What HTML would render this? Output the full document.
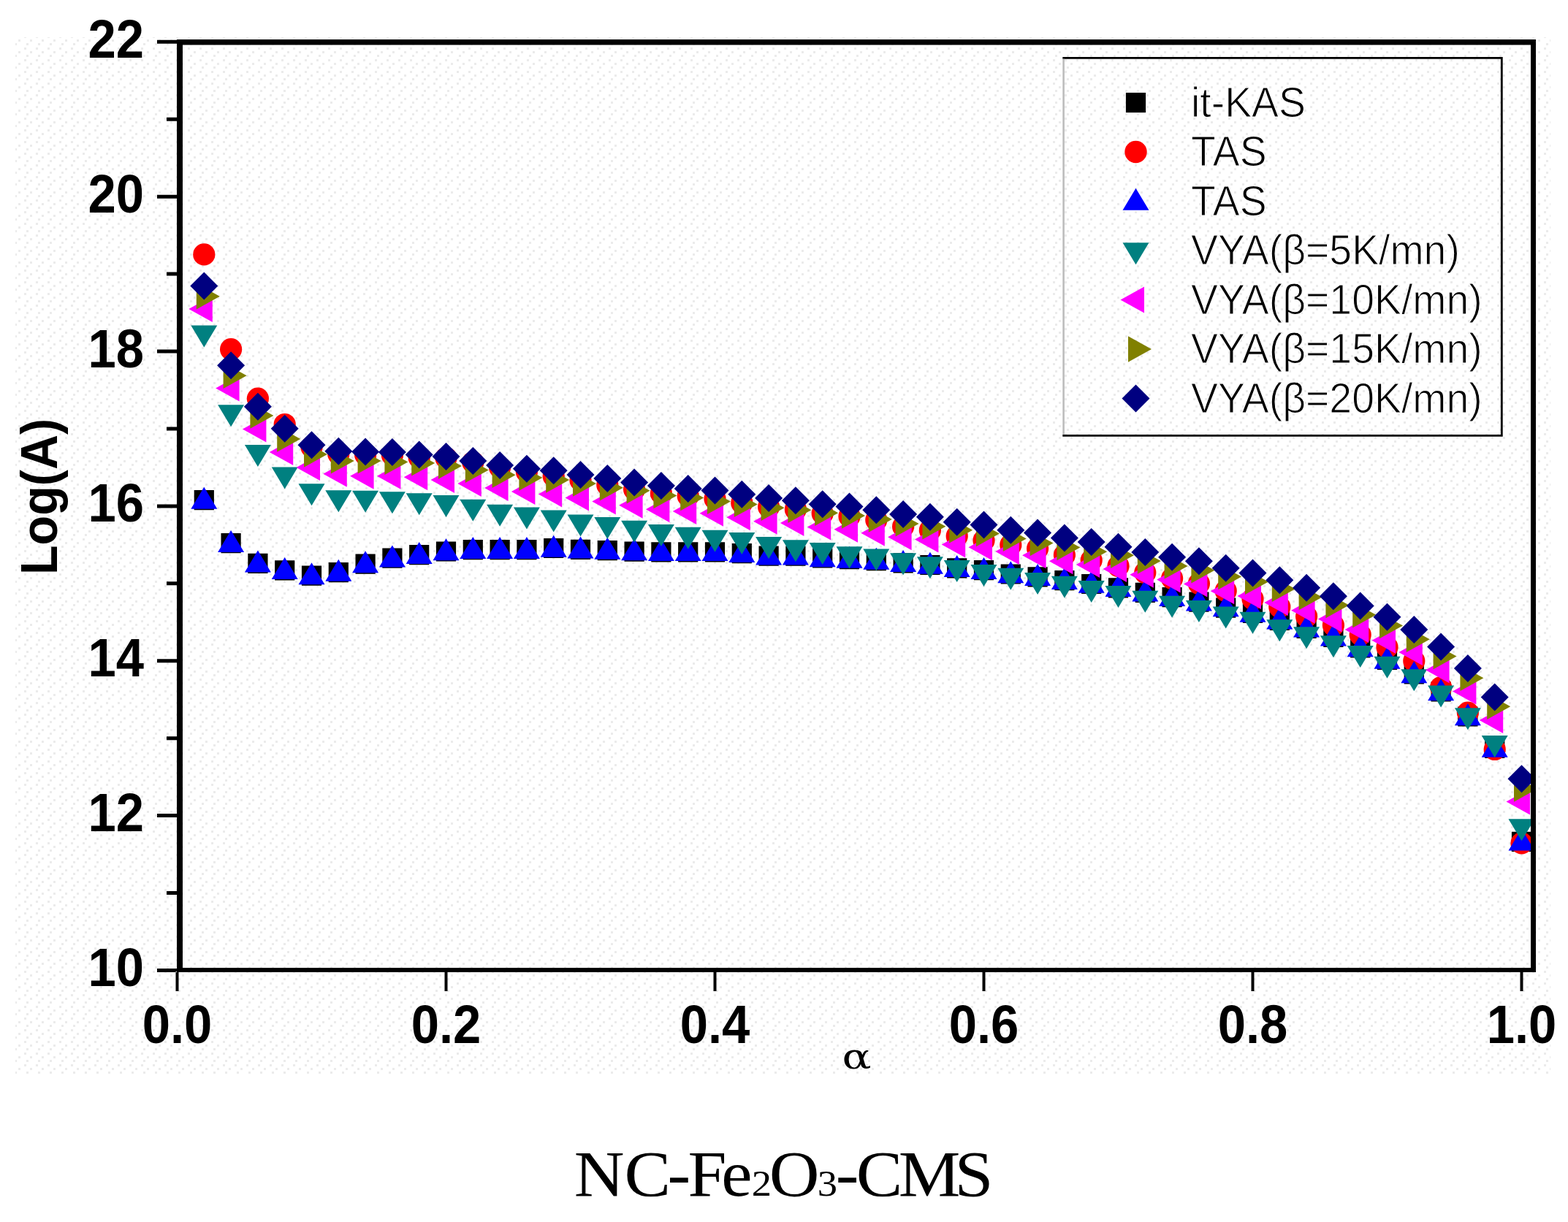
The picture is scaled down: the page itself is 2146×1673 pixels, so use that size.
<!DOCTYPE html>
<html><head><meta charset="utf-8"><title>NC-Fe2O3-CMS Log(A) vs alpha</title>
<style>html,body{margin:0;padding:0;background:#fff;}svg{display:block;}</style>
</head><body>
<svg width="2146" height="1673" viewBox="0 0 2146 1673"><rect x="0" y="0" width="2146" height="1673" fill="#fff"/><defs><pattern id="dots" width="16" height="16" patternUnits="userSpaceOnUse"><rect x="1" y="1" width="3" height="3" fill="#ebebeb"/><rect x="9" y="6" width="3" height="3" fill="#ebebeb"/><rect x="4" y="11" width="3" height="3" fill="#ebebeb"/></pattern></defs><rect x="21" y="51" width="2101" height="1419" fill="url(#dots)"/><g clip-path="url(#pc)"><path fill="#000000" d="M265.7 671h27.2v27.2h-27.2zM302.5 730.1h27.2v27.2h-27.2zM339.3 757.7h27.2v27.2h-27.2zM376.1 767.3h27.2v27.2h-27.2zM412.9 774.5h27.2v27.2h-27.2zM449.7 770h27.2v27.2h-27.2zM486.5 758.5h27.2v27.2h-27.2zM523.3 750.6h27.2v27.2h-27.2zM560.1 746.1h27.2v27.2h-27.2zM596.9 741.4h27.2v27.2h-27.2zM633.7 739.1h27.2v27.2h-27.2zM670.5 739.1h27.2v27.2h-27.2zM707.3 739.1h27.2v27.2h-27.2zM744.1 736.9h27.2v27.2h-27.2zM780.9 738.8h27.2v27.2h-27.2zM817.7 740h27.2v27.2h-27.2zM854.5 741.5h27.2v27.2h-27.2zM891.3 742.3h27.2v27.2h-27.2zM928.1 742.3h27.2v27.2h-27.2zM964.9 742.3h27.2v27.2h-27.2zM1001.7 744.1h27.2v27.2h-27.2zM1038.5 747.6h27.2v27.2h-27.2zM1075.3 747.6h27.2v27.2h-27.2zM1112.1 750.4h27.2v27.2h-27.2zM1148.9 752h27.2v27.2h-27.2zM1185.7 754h27.2v27.2h-27.2zM1222.5 757.2h27.2v27.2h-27.2zM1259.3 759.9h27.2v27.2h-27.2zM1296.1 764.2h27.2v27.2h-27.2zM1332.9 767.1h27.2v27.2h-27.2zM1369.7 772.4h27.2v27.2h-27.2zM1406.5 776.2h27.2v27.2h-27.2zM1443.3 781.1h27.2v27.2h-27.2zM1480.1 785.9h27.2v27.2h-27.2zM1516.9 791.3h27.2v27.2h-27.2zM1553.7 797.7h27.2v27.2h-27.2zM1590.5 804.1h27.2v27.2h-27.2zM1627.3 810.6h27.2v27.2h-27.2zM1664.1 818.5h27.2v27.2h-27.2zM1700.9 825.9h27.2v27.2h-27.2zM1737.7 835.8h27.2v27.2h-27.2zM1774.5 846.7h27.2v27.2h-27.2zM1811.3 858.8h27.2v27.2h-27.2zM1848.1 873.4h27.2v27.2h-27.2zM1884.9 889.9h27.2v27.2h-27.2zM1921.7 909.4h27.2v27.2h-27.2zM1958.5 933.4h27.2v27.2h-27.2zM1995.3 967.4h27.2v27.2h-27.2zM2032.1 1010.9h27.2v27.2h-27.2zM2068.9 1138.8h27.2v27.2h-27.2z"/><g fill="#ff0000"><circle cx="279.3" cy="348.4" r="15.1"/><circle cx="316.1" cy="478.2" r="15.1"/><circle cx="352.9" cy="545.6" r="15.1"/><circle cx="389.7" cy="581" r="15.1"/><circle cx="426.5" cy="612" r="15.1"/><circle cx="463.3" cy="621.5" r="15.1"/><circle cx="500.1" cy="622.5" r="15.1"/><circle cx="536.9" cy="623" r="15.1"/><circle cx="573.7" cy="626.5" r="15.1"/><circle cx="610.5" cy="627" r="15.1"/><circle cx="647.3" cy="633" r="15.1"/><circle cx="684.1" cy="640" r="15.1"/><circle cx="720.9" cy="646" r="15.1"/><circle cx="757.7" cy="652" r="15.1"/><circle cx="794.5" cy="657.5" r="15.1"/><circle cx="831.3" cy="664" r="15.1"/><circle cx="868.1" cy="670" r="15.1"/><circle cx="904.9" cy="675.4" r="15.1"/><circle cx="941.7" cy="679" r="15.1"/><circle cx="978.5" cy="683" r="15.1"/><circle cx="1015.3" cy="688.5" r="15.1"/><circle cx="1052.1" cy="694" r="15.1"/><circle cx="1088.9" cy="697.5" r="15.1"/><circle cx="1125.7" cy="703" r="15.1"/><circle cx="1162.5" cy="707" r="15.1"/><circle cx="1199.3" cy="712" r="15.1"/><circle cx="1236.1" cy="721" r="15.1"/><circle cx="1272.9" cy="726" r="15.1"/><circle cx="1309.7" cy="734" r="15.1"/><circle cx="1346.5" cy="740" r="15.1"/><circle cx="1383.3" cy="746" r="15.1"/><circle cx="1420.1" cy="751" r="15.1"/><circle cx="1456.9" cy="760" r="15.1"/><circle cx="1493.7" cy="767" r="15.1"/><circle cx="1530.5" cy="775" r="15.1"/><circle cx="1567.3" cy="784" r="15.1"/><circle cx="1604.1" cy="792" r="15.1"/><circle cx="1640.9" cy="799" r="15.1"/><circle cx="1677.7" cy="809" r="15.1"/><circle cx="1714.5" cy="820" r="15.1"/><circle cx="1751.3" cy="831" r="15.1"/><circle cx="1788.1" cy="844" r="15.1"/><circle cx="1824.9" cy="856" r="15.1"/><circle cx="1861.7" cy="869" r="15.1"/><circle cx="1898.5" cy="886" r="15.1"/><circle cx="1935.3" cy="905" r="15.1"/><circle cx="1972.1" cy="941" r="15.1"/><circle cx="2008.9" cy="975.6" r="15.1"/><circle cx="2045.7" cy="1026" r="15.1"/><circle cx="2082.5" cy="1154.4" r="15.1"/></g><path fill="#0000ff" d="M279.3 666.8L297.3 696.8L261.3 696.8zM316.1 725.9L334.1 755.9L298.1 755.9zM352.9 753.5L370.9 783.5L334.9 783.5zM389.7 763.1L407.7 793.1L371.7 793.1zM426.5 770.3L444.5 800.3L408.5 800.3zM463.3 765.8L481.3 795.8L445.3 795.8zM500.1 754.3L518.1 784.3L482.1 784.3zM536.9 746.4L554.9 776.4L518.9 776.4zM573.7 741.9L591.7 771.9L555.7 771.9zM610.5 737.2L628.5 767.2L592.5 767.2zM647.3 734.9L665.3 764.9L629.3 764.9zM684.1 734.9L702.1 764.9L666.1 764.9zM720.9 734.9L738.9 764.9L702.9 764.9zM757.7 732.7L775.7 762.7L739.7 762.7zM794.5 734.6L812.5 764.6L776.5 764.6zM831.3 735.8L849.3 765.8L813.3 765.8zM868.1 737.3L886.1 767.3L850.1 767.3zM904.9 738.1L922.9 768.1L886.9 768.1zM941.7 738.1L959.7 768.1L923.7 768.1zM978.5 738.1L996.5 768.1L960.5 768.1zM1015.3 739.9L1033.3 769.9L997.3 769.9zM1052.1 743.4L1070.1 773.4L1034.1 773.4zM1088.9 743.4L1106.9 773.4L1070.9 773.4zM1125.7 746.2L1143.7 776.2L1107.7 776.2zM1162.5 747.8L1180.5 777.8L1144.5 777.8zM1199.3 749.8L1217.3 779.8L1181.3 779.8zM1236.1 753L1254.1 783L1218.1 783zM1272.9 755.7L1290.9 785.7L1254.9 785.7zM1309.7 760L1327.7 790L1291.7 790zM1346.5 762.9L1364.5 792.9L1328.5 792.9zM1383.3 768.2L1401.3 798.2L1365.3 798.2zM1420.1 772L1438.1 802L1402.1 802zM1456.9 776.9L1474.9 806.9L1438.9 806.9zM1493.7 781.7L1511.7 811.7L1475.7 811.7zM1530.5 787.1L1548.5 817.1L1512.5 817.1zM1567.3 793.5L1585.3 823.5L1549.3 823.5zM1604.1 799.9L1622.1 829.9L1586.1 829.9zM1640.9 806.4L1658.9 836.4L1622.9 836.4zM1677.7 814.3L1695.7 844.3L1659.7 844.3zM1714.5 821.7L1732.5 851.7L1696.5 851.7zM1751.3 831.6L1769.3 861.6L1733.3 861.6zM1788.1 842.5L1806.1 872.5L1770.1 872.5zM1824.9 854.6L1842.9 884.6L1806.9 884.6zM1861.7 869.2L1879.7 899.2L1843.7 899.2zM1898.5 885.7L1916.5 915.7L1880.5 915.7zM1935.3 905.2L1953.3 935.2L1917.3 935.2zM1972.1 929.2L1990.1 959.2L1954.1 959.2zM2008.9 963.2L2026.9 993.2L1990.9 993.2zM2045.7 1006.7L2063.7 1036.7L2027.7 1036.7zM2082.5 1134.6L2100.5 1164.6L2064.5 1164.6z"/><path fill="#008080" d="M261.3 445.5L297.3 445.5L279.3 475.5zM298.1 554.3L334.1 554.3L316.1 584.3zM334.9 608.9L370.9 608.9L352.9 638.9zM371.7 639.6L407.7 639.6L389.7 669.6zM408.5 662.3L444.5 662.3L426.5 692.3zM445.3 671.3L481.3 671.3L463.3 701.3zM482.1 671.7L518.1 671.7L500.1 701.7zM518.9 673.3L554.9 673.3L536.9 703.3zM555.7 675.3L591.7 675.3L573.7 705.3zM592.5 678.1L628.5 678.1L610.5 708.1zM629.3 683.7L665.3 683.7L647.3 713.7zM666.1 690.8L702.1 690.8L684.1 720.8zM702.9 694.4L738.9 694.4L720.9 724.4zM739.7 698.6L775.7 698.6L757.7 728.6zM776.5 704.4L812.5 704.4L794.5 734.4zM813.3 708L849.3 708L831.3 738zM850.1 712.8L886.1 712.8L868.1 742.8zM886.9 718.1L922.9 718.1L904.9 748.1zM923.7 721.8L959.7 721.8L941.7 751.8zM960.5 725.8L996.5 725.8L978.5 755.8zM997.3 729L1033.3 729L1015.3 759zM1034.1 735.1L1070.1 735.1L1052.1 765.1zM1070.9 739.3L1106.9 739.3L1088.9 769.3zM1107.7 743L1143.7 743L1125.7 773zM1144.5 748.2L1180.5 748.2L1162.5 778.2zM1181.3 751.6L1217.3 751.6L1199.3 781.6zM1218.1 757.2L1254.1 757.2L1236.1 787.2zM1254.9 762.3L1290.9 762.3L1272.9 792.3zM1291.7 767L1327.7 767L1309.7 797zM1328.5 773.1L1364.5 773.1L1346.5 803.1zM1365.3 777.7L1401.3 777.7L1383.3 807.7zM1402.1 783.9L1438.1 783.9L1420.1 813.9zM1438.9 788.8L1474.9 788.8L1456.9 818.8zM1475.7 795.1L1511.7 795.1L1493.7 825.1zM1512.5 802L1548.5 802L1530.5 832zM1549.3 808.8L1585.3 808.8L1567.3 838.8zM1586.1 815.7L1622.1 815.7L1604.1 845.7zM1622.9 822L1658.9 822L1640.9 852zM1659.7 830.4L1695.7 830.4L1677.7 860.4zM1696.5 837.7L1732.5 837.7L1714.5 867.7zM1733.3 848.2L1769.3 848.2L1751.3 878.2zM1770.1 858.3L1806.1 858.3L1788.1 888.3zM1806.9 870.3L1842.9 870.3L1824.9 900.3zM1843.7 884L1879.7 884L1861.7 914zM1880.5 898.7L1916.5 898.7L1898.5 928.7zM1917.3 916.2L1953.3 916.2L1935.3 946.2zM1954.1 938.4L1990.1 938.4L1972.1 968.4zM1990.9 969.3L2026.9 969.3L2008.9 999.3zM2027.7 1007L2063.7 1007L2045.7 1037zM2064.5 1121.3L2100.5 1121.3L2082.5 1151.3z"/><path fill="#ff00ff" d="M258.3 423L290.8 405L290.8 441zM295.1 531.5L327.6 513.5L327.6 549.5zM331.9 587.5L364.4 569.5L364.4 605.5zM368.7 619L401.2 601L401.2 637zM405.5 639.9L438 621.9L438 657.9zM442.3 648.8L474.8 630.8L474.8 666.8zM479.1 651.8L511.6 633.8L511.6 669.8zM515.9 651.8L548.4 633.8L548.4 669.8zM552.7 653.3L585.2 635.3L585.2 671.3zM589.5 657L622 639L622 675zM626.3 662.1L658.8 644.1L658.8 680.1zM663.1 668L695.6 650L695.6 686zM699.9 672.9L732.4 654.9L732.4 690.9zM736.7 676.5L769.2 658.5L769.2 694.5zM773.5 681.5L806 663.5L806 699.5zM810.3 686.5L842.8 668.5L842.8 704.5zM847.1 691.8L879.6 673.8L879.6 709.8zM883.9 697.3L916.4 679.3L916.4 715.3zM920.7 700L953.2 682L953.2 718zM957.5 702.8L990 684.8L990 720.8zM994.3 708.2L1026.8 690.2L1026.8 726.2zM1031.1 713.7L1063.6 695.7L1063.6 731.7zM1067.9 716L1100.4 698L1100.4 734zM1104.7 721.5L1137.2 703.5L1137.2 739.5zM1141.5 724.8L1174 706.8L1174 742.8zM1178.3 729.7L1210.8 711.7L1210.8 747.7zM1215.1 735.2L1247.6 717.2L1247.6 753.2zM1251.9 738.5L1284.4 720.5L1284.4 756.5zM1288.7 745.4L1321.2 727.4L1321.2 763.4zM1325.5 749.3L1358 731.3L1358 767.3zM1362.3 755.1L1394.8 737.1L1394.8 773.1zM1399.1 760.3L1431.6 742.3L1431.6 778.3zM1435.9 768.2L1468.4 750.2L1468.4 786.2zM1472.7 773.1L1505.2 755.1L1505.2 791.1zM1509.5 778.9L1542 760.9L1542 796.9zM1546.3 786.8L1578.8 768.8L1578.8 804.8zM1583.1 793.6L1615.6 775.6L1615.6 811.6zM1619.9 799.5L1652.4 781.5L1652.4 817.5zM1656.7 809.3L1689.2 791.3L1689.2 827.3zM1693.5 816.1L1726 798.1L1726 834.1zM1730.3 824.9L1762.8 806.9L1762.8 842.9zM1767.1 835.7L1799.6 817.7L1799.6 853.7zM1803.9 847.5L1836.4 829.5L1836.4 865.5zM1840.7 862L1873.2 844L1873.2 880zM1877.5 876.8L1910 858.8L1910 894.8zM1914.3 893.1L1946.8 875.1L1946.8 911.1zM1951.1 917.2L1983.6 899.2L1983.6 935.2zM1987.9 946.6L2020.4 928.6L2020.4 964.6zM2024.7 986L2057.2 968L2057.2 1004zM2061.5 1097.5L2094 1079.5L2094 1115.5z"/><path fill="#808000" d="M268.8 388L300.8 405.7L268.8 423.4zM305.6 496.5L337.6 514.2L305.6 531.9zM342.4 551.3L374.4 569L342.4 586.7zM379.2 583.3L411.2 601L379.2 618.7zM416 604.3L448 622L416 639.7zM452.8 613.2L484.8 630.9L452.8 648.6zM489.6 613.2L521.6 630.9L489.6 648.6zM526.4 614.7L558.4 632.4L526.4 650.1zM563.2 616.2L595.2 633.9L563.2 651.6zM600 620.3L632 638L600 655.7zM636.8 625.7L668.8 643.4L636.8 661.1zM673.6 632.5L705.6 650.2L673.6 667.9zM710.4 636.4L742.4 654.1L710.4 671.8zM747.2 639.4L779.2 657.1L747.2 674.8zM784 644.3L816 662L784 679.7zM820.8 650.1L852.8 667.8L820.8 685.5zM857.6 654.1L889.6 671.8L857.6 689.5zM894.4 660.9L926.4 678.6L894.4 696.3zM931.2 663.8L963.2 681.5L931.2 699.2zM968 668.7L1000 686.4L968 704.1zM1004.8 672.7L1036.8 690.4L1004.8 708.1zM1041.6 677.6L1073.6 695.3L1041.6 713zM1078.4 680.6L1110.4 698.3L1078.4 716zM1115.2 684.5L1147.2 702.2L1115.2 719.9zM1152 688.4L1184 706.1L1152 723.8zM1188.8 693.3L1220.8 711L1188.8 728.7zM1225.6 699.2L1257.6 716.9L1225.6 734.6zM1262.4 703.1L1294.4 720.8L1262.4 738.5zM1299.2 708L1331.2 725.7L1299.2 743.4zM1336 712.9L1368 730.6L1336 748.3zM1372.8 719.7L1404.8 737.4L1372.8 755.1zM1409.6 725.9L1441.6 743.6L1409.6 761.3zM1446.4 731.8L1478.4 749.5L1446.4 767.2zM1483.2 737.6L1515.2 755.3L1483.2 773zM1520 742.5L1552 760.2L1520 777.9zM1556.8 750.4L1588.8 768.1L1556.8 785.8zM1593.6 757.2L1625.6 774.9L1593.6 792.6zM1630.4 763.1L1662.4 780.8L1630.4 798.5zM1667.2 771.9L1699.2 789.6L1667.2 807.3zM1704 778.7L1736 796.4L1704 814.1zM1740.8 788.5L1772.8 806.2L1740.8 823.9zM1777.6 799.8L1809.6 817.5L1777.6 835.2zM1814.4 810.9L1846.4 828.6L1814.4 846.3zM1851.2 824.1L1883.2 841.8L1851.2 859.5zM1888 838.9L1920 856.6L1888 874.3zM1924.8 857.5L1956.8 875.2L1924.8 892.9zM1961.6 880.9L1993.6 898.6L1961.6 916.3zM1998.4 910.6L2030.4 928.3L1998.4 946zM2035.2 949.6L2067.2 967.3L2035.2 985zM2072 1062.3L2104 1080L2072 1097.7z"/><path fill="#000080" d="M279.3 372.5L298.3 391.5L279.3 410.5L260.3 391.5zM316.1 481.3L335.1 500.3L316.1 519.3L297.1 500.3zM352.9 537.7L371.9 556.7L352.9 575.7L333.9 556.7zM389.7 567.8L408.7 586.8L389.7 605.8L370.7 586.8zM426.5 590.2L445.5 609.2L426.5 628.2L407.5 609.2zM463.3 598.7L482.3 617.7L463.3 636.7L444.3 617.7zM500.1 599.5L519.1 618.5L500.1 637.5L481.1 618.5zM536.9 600L555.9 619L536.9 638L517.9 619zM573.7 603.4L592.7 622.4L573.7 641.4L554.7 622.4zM610.5 606L629.5 625L610.5 644L591.5 625zM647.3 611.9L666.3 630.9L647.3 649.9L628.3 630.9zM684.1 618L703.1 637L684.1 656L665.1 637zM720.9 622.7L739.9 641.7L720.9 660.7L701.9 641.7zM757.7 625.3L776.7 644.3L757.7 663.3L738.7 644.3zM794.5 631L813.5 650L794.5 669L775.5 650zM831.3 635.9L850.3 654.9L831.3 673.9L812.3 654.9zM868.1 641.5L887.1 660.5L868.1 679.5L849.1 660.5zM904.9 646L923.9 665L904.9 684L885.9 665zM941.7 650.1L960.7 669.1L941.7 688.1L922.7 669.1zM978.5 652.6L997.5 671.6L978.5 690.6L959.5 671.6zM1015.3 657.8L1034.3 676.8L1015.3 695.8L996.3 676.8zM1052.1 663L1071.1 682L1052.1 701L1033.1 682zM1088.9 666.2L1107.9 685.2L1088.9 704.2L1069.9 685.2zM1125.7 671.2L1144.7 690.2L1125.7 709.2L1106.7 690.2zM1162.5 674.6L1181.5 693.6L1162.5 712.6L1143.5 693.6zM1199.3 679.3L1218.3 698.3L1199.3 717.3L1180.3 698.3zM1236.1 684.9L1255.1 703.9L1236.1 722.9L1217.1 703.9zM1272.9 688.8L1291.9 707.8L1272.9 726.8L1253.9 707.8zM1309.7 695.7L1328.7 714.7L1309.7 733.7L1290.7 714.7zM1346.5 699.5L1365.5 718.5L1346.5 737.5L1327.5 718.5zM1383.3 706.7L1402.3 725.7L1383.3 744.7L1364.3 725.7zM1420.1 710.4L1439.1 729.4L1420.1 748.4L1401.1 729.4zM1456.9 717.5L1475.9 736.5L1456.9 755.5L1437.9 736.5zM1493.7 723L1512.7 742L1493.7 761L1474.7 742zM1530.5 729.8L1549.5 748.8L1530.5 767.8L1511.5 748.8zM1567.3 737L1586.3 756L1567.3 775L1548.3 756zM1604.1 743.7L1623.1 762.7L1604.1 781.7L1585.1 762.7zM1640.9 749.3L1659.9 768.3L1640.9 787.3L1621.9 768.3zM1677.7 758.8L1696.7 777.8L1677.7 796.8L1658.7 777.8zM1714.5 765.5L1733.5 784.5L1714.5 803.5L1695.5 784.5zM1751.3 775.3L1770.3 794.3L1751.3 813.3L1732.3 794.3zM1788.1 785.8L1807.1 804.8L1788.1 823.8L1769.1 804.8zM1824.9 797.2L1843.9 816.2L1824.9 835.2L1805.9 816.2zM1861.7 810.4L1880.7 829.4L1861.7 848.4L1842.7 829.4zM1898.5 825.8L1917.5 844.8L1898.5 863.8L1879.5 844.8zM1935.3 843L1954.3 862L1935.3 881L1916.3 862zM1972.1 866.4L1991.1 885.4L1972.1 904.4L1953.1 885.4zM2008.9 896.1L2027.9 915.1L2008.9 934.1L1989.9 915.1zM2045.7 935.4L2064.7 954.4L2045.7 973.4L2026.7 954.4zM2082.5 1047.3L2101.5 1066.3L2082.5 1085.3L2063.5 1066.3z"/></g><clipPath id="pc"><rect x="246" y="58" width="1853" height="1270"/></clipPath><path fill="#000" d="M215 1326H243v5H215zM228 1220H243v5H228zM215 1114.1H243v5H215zM228 1008.2H243v5H228zM215 902.2H243v5H215zM228 796.3H243v5H228zM215 690.4H243v5H215zM228 584.5H243v5H228zM215 478.5H243v5H215zM228 372.6H243v5H228zM215 266.7H243v5H215zM228 160.7H243v5H228zM215 54.8H243v5H215zM240.5 1330V1357h4V1330zM608.5 1330V1357h4V1330zM976.5 1330V1357h4V1330zM1344.5 1330V1357h4V1330zM1712.5 1330V1357h4V1330zM2080.5 1330V1357h4V1330z"/><path fill="#000" fill-rule="evenodd" d="M242 54H2102V1331H242z M250 61.5V1325H2095V61.5z"/><g font-family="'Liberation Sans', Arial, sans-serif" font-weight="bold" font-size="74" fill="#000"><text transform="translate(197 1350) scale(0.93 1)" text-anchor="end">10</text><text transform="translate(197 1138.1) scale(0.93 1)" text-anchor="end">12</text><text transform="translate(197 926.2) scale(0.93 1)" text-anchor="end">14</text><text transform="translate(197 714.4) scale(0.93 1)" text-anchor="end">16</text><text transform="translate(197 502.5) scale(0.93 1)" text-anchor="end">18</text><text transform="translate(197 290.7) scale(0.93 1)" text-anchor="end">20</text><text transform="translate(197 78.8) scale(0.93 1)" text-anchor="end">22</text><text transform="translate(242.5 1428.3) scale(0.93 1)" text-anchor="middle">0.0</text><text transform="translate(610.5 1428.3) scale(0.93 1)" text-anchor="middle">0.2</text><text transform="translate(978.5 1428.3) scale(0.93 1)" text-anchor="middle">0.4</text><text transform="translate(1346.5 1428.3) scale(0.93 1)" text-anchor="middle">0.6</text><text transform="translate(1714.5 1428.3) scale(0.93 1)" text-anchor="middle">0.8</text><text transform="translate(2082.5 1428.3) scale(0.93 1)" text-anchor="middle">1.0</text></g><text transform="translate(78.3 680) rotate(-90) scale(0.95 1)" text-anchor="middle" font-family="'Liberation Sans', Arial, sans-serif" font-weight="bold" font-size="70">Log(A)</text><text transform="translate(1172.4 1463.3) scale(1.21 1)" text-anchor="middle" font-family="'DejaVu Serif', 'Liberation Serif', serif" font-size="49">&#945;</text><g><path fill="#000" d="M1454.3 78H2056.7V597.8H1454.3V595.1H2053.9V80.7H1454.3z"/><rect x="1454.3" y="80.7" width="2.6" height="514.4" fill="#bdbdbd"/><path fill="#000" d="M1540.9 126.9h27.2v27.2h-27.2z"/><circle fill="#ff0000" cx="1554.5" cy="208" r="15.2"/><path fill="#0000ff" d="M1554.5 257.7L1572.5 287.7L1536.5 287.7z"/><path fill="#008080" d="M1536.5 332.3L1572.5 332.3L1554.5 362.3z"/><path fill="#ff00ff" d="M1533.5 410.5L1566 392.5L1566 428.5z"/><path fill="#808000" d="M1544 460.3L1576 478L1544 495.7z"/><path fill="#000080" d="M1554.5 526.5L1573.5 545.5L1554.5 564.5L1535.5 545.5z"/></g><g font-family="'Liberation Sans', Arial, sans-serif" font-size="58" fill="#000" stroke="#fff" stroke-width="1.1"><text transform="translate(1630 159.9) scale(0.955 1)">it-KAS</text><text transform="translate(1630 227.4) scale(0.955 1)">TAS</text><text transform="translate(1630 294.9) scale(0.955 1)">TAS</text><text transform="translate(1630 362.4) scale(0.955 1)">VYA(&#946;=5K/mn)</text><text transform="translate(1630 429.9) scale(0.955 1)">VYA(&#946;=10K/mn)</text><text transform="translate(1630 497.4) scale(0.955 1)">VYA(&#946;=15K/mn)</text><text transform="translate(1630 564.9) scale(0.955 1)">VYA(&#946;=20K/mn)</text></g><text transform="translate(0 1636.5) scale(1.07 1)" font-family="'Liberation Serif', 'Times New Roman', serif" font-size="89" fill="#000"><tspan x="734.3 798.6 853.8 880 922.7">NC-Fe</tspan><tspan x="961.4" font-size="51">2</tspan><tspan x="983.8">O</tspan><tspan x="1045.6" font-size="51">3</tspan><tspan x="1069 1095.1 1149.3 1221">-CMS</tspan></text></svg>
</body></html>
